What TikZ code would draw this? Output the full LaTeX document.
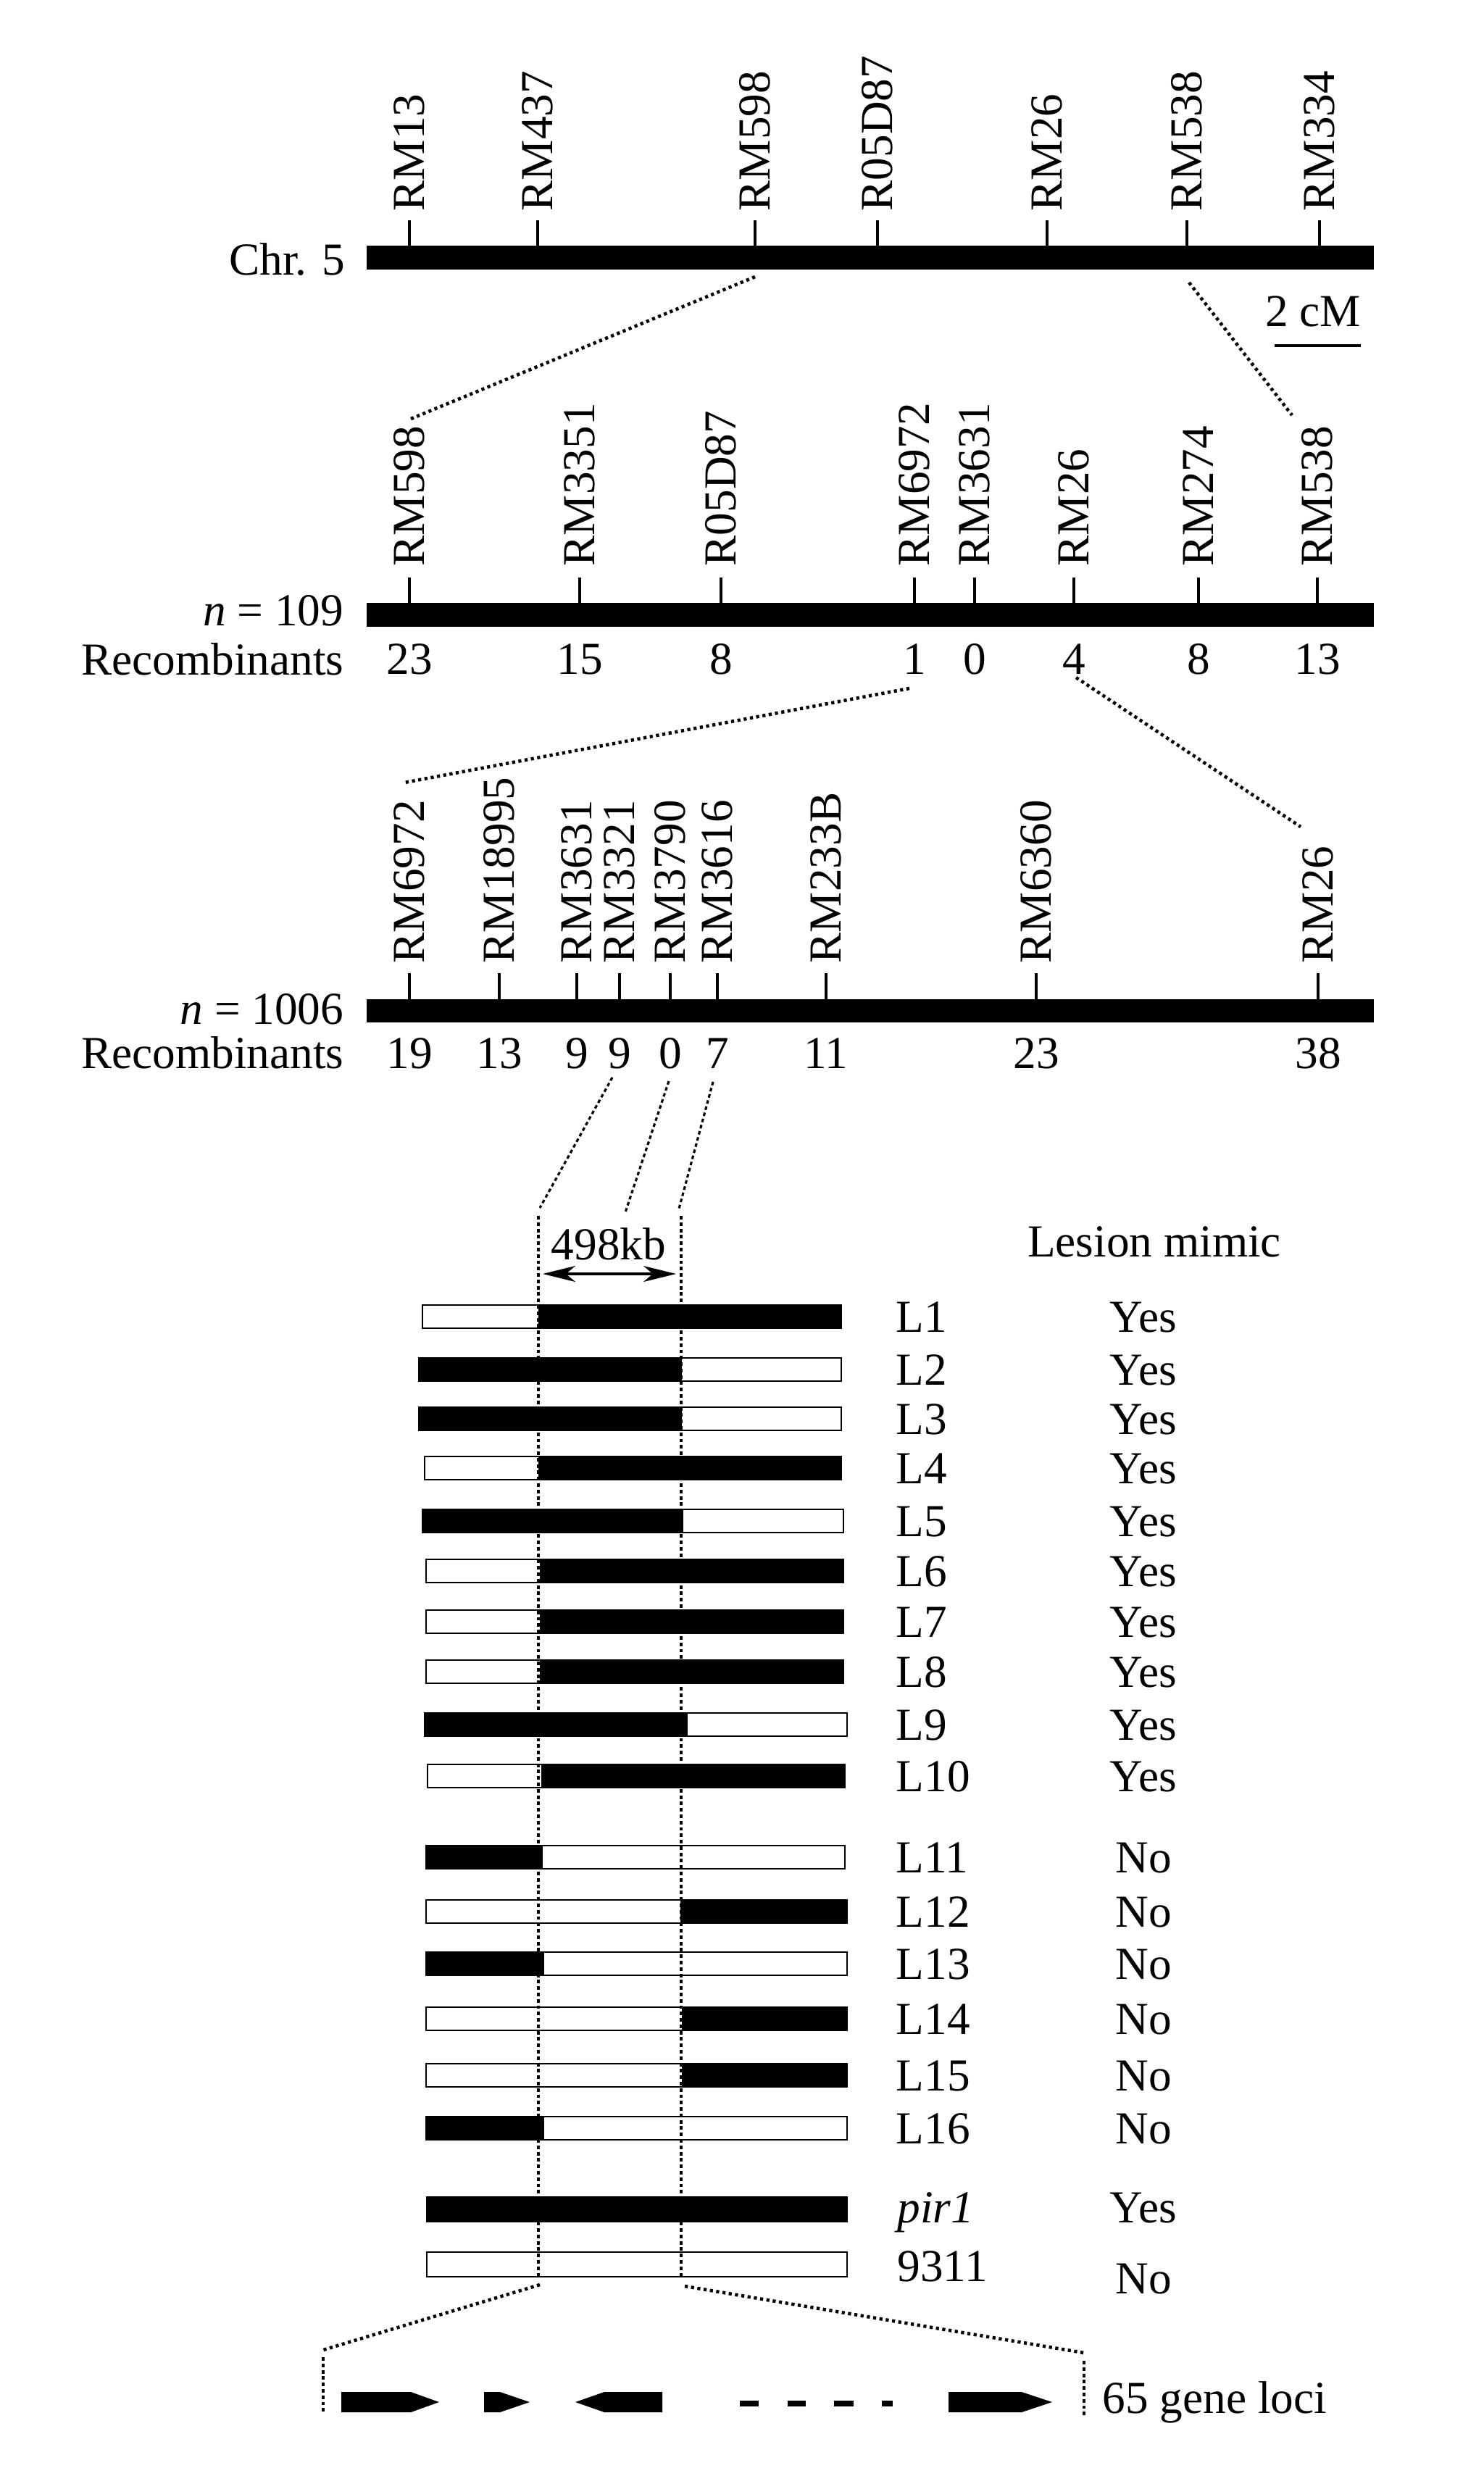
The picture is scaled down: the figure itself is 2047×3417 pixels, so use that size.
\documentclass[tikz,border=0pt]{standalone}
\usepackage{fontspec}
\setmainfont{Liberation Serif}
\usetikzlibrary{arrows.meta}
\begin{document}
\begin{tikzpicture}[x=0.1mm,y=-0.1mm,
  every node/.style={inner sep=0pt, font=\fontsize{18}{21}\selectfont},
  chrom/.style={fill=black},
  tickln/.style={line width=0.9pt},
  mk/.style={rotate=90, anchor=west},
  txt/.style={anchor=base},
  txtr/.style={anchor=base east},
  txtl/.style={anchor=base west},
  zoomdot/.style={line width=1.3pt, dash pattern=on 1.2pt off 1.3pt},
  dashln/.style={line width=0.9pt, dash pattern=on 1.4pt off 1.1pt},
  segbox/.style={draw=black, line width=0.8pt},
  gene/.style={fill=black},
  kbarrow/.style={{Stealth[length=4.5mm,width=2.2mm,inset=1.3mm]}-{Stealth[length=4.5mm,width=2.2mm,inset=1.3mm]}, line width=1pt},
]
\useasboundingbox (0,0) rectangle (2047,3417);

% ---------- Chr. 5 ----------
\fill[chrom] (506,339) rectangle (1896,372);
\node[txtr] (chr) at (477,379) {Chr. 5};
\foreach \x/\t [count=\i] in {565/RM13,742/RM437,1042/RM598,1211/R05D87,1445/RM26,1638/RM538,1821/RM334}{
  \node[mk] (a\i) at (\x,292) {\t};
  \draw[tickln] (\x,304) -- (\x,339);
}
\node[txt] (cm) at (1812,450) {2 cM};
\coordinate (cmL) at (1759,477);
\coordinate (cmR) at (1878,477);
\draw[line width=0.9pt] (cmL) -- (cmR);

% ---------- n = 109 ----------
\fill[chrom] (506,832) rectangle (1896,865);
\node[txtr] (n109) at (475,863) {\textit{n} = 109};
\node[txtr] (rec1) at (475,931) {Recombinants};
\foreach \x/\t/\r [count=\i] in {565/RM598/23,800/RM3351/15,995/R05D87/8,1262/RM6972/1,1345/RM3631/0,1482/RM26/4,1654/RM274/8,1818/RM538/13}{
  \node[mk] (b\i) at (\x,782) {\t};
  \draw[tickln] (\x,797) -- (\x,832);
  \node[txt] (br\i) at (\x,930) {\r};
}

% ---------- n = 1006 ----------
\fill[chrom] (506,1379) rectangle (1896,1411);
\node[txtr] (n1006) at (475,1413) {\textit{n} = 1006};
\node[txtr] (rec2) at (475,1474) {Recombinants};
\foreach \x/\t/\r [count=\i] in {565/RM6972/19,689/RM18995/13,796/RM3631/9,855/RM3321/9,925/RM3790/0,990/RM3616/7,1140/RM233B/11,1430/RM6360/23,1819/RM26/38}{
  \node[mk] (c\i) at (\x,1330) {\t};
  \draw[tickln] (\x,1343) -- (\x,1379);
  \node[txt] (cr\i) at (\x,1474) {\r};
}

% ---------- zoom connectors ----------
\coordinate (z1a) at (1042,382);  \coordinate (z1b) at (567,578);
\coordinate (z2a) at (1641,390);  \coordinate (z2b) at (1783,573);
\coordinate (z3a) at (1255,950);  \coordinate (z3b) at (558,1080);
\coordinate (z4a) at (1485,935);  \coordinate (z4b) at (1795,1141);
\draw[zoomdot] (z1a) -- (z1b);
\draw[zoomdot] (z2a) -- (z2b);
\draw[zoomdot] (z3a) -- (z3b);
\draw[zoomdot] (z4a) -- (z4b);

\coordinate (d1a) at (845,1487); \coordinate (d1b) at (745,1667);
\coordinate (d2a) at (923,1492); \coordinate (d2b) at (863,1673);
\coordinate (d3a) at (984,1493); \coordinate (d3b) at (937,1668);
\draw[dashln] (d1a) -- (d1b);
\draw[dashln] (d2a) -- (d2b);
\draw[dashln] (d3a) -- (d3b);

% ---------- 498 kb ----------
\node[txt] (kb) at (840,1738) {498kb};
\coordinate (kbL) at (749,1758);
\coordinate (kbR) at (933,1758);
\draw[kbarrow] (kbL) -- (kbR);
\node[txt] (lm) at (1593,1734) {Lesion mimic};

% ---------- recombinant lines ----------
\foreach \y/\l/\r/\s/\cl/\cr/\lab/\res [count=\i] in {
  1817/583/1161/744/white/black/L1/Yes,
  1890/578/1161/940/black/white/L2/Yes,
  1958/578/1161/940/black/white/L3/Yes,
  2026/586/1161/744/white/black/L4/Yes,
  2099/583/1164/942/black/white/L5/Yes,
  2168/588/1164/746/white/black/L6/Yes,
  2238/588/1164/746/white/black/L7/Yes,
  2307/588/1164/746/white/black/L8/Yes,
  2380/586/1169/948/black/white/L9/Yes,
  2451/590/1166/748/white/black/L10/Yes,
  2563/588/1166/748/black/white/L11/No,
  2638/588/1169/940/white/black/L12/No,
  2710/588/1169/750/black/white/L13/No,
  2786/588/1169/942/white/black/L14/No,
  2864/588/1169/942/white/black/L15/No,
  2937/588/1169/750/black/white/L16/No}{
  \filldraw[segbox, fill=\cl] (\l,\y-16) rectangle (\s,\y+16);
  \filldraw[segbox, fill=\cr] (\s,\y-16) rectangle (\r,\y+16);
  \node[txtl] (lab\i) at (1236,\y+21) {\lab};
  \node[txt] (res\i) at (1578,\y+21) {\res};
}
\filldraw[segbox, fill=black] (589,3032) rectangle (1169,3066);
\node[txtl] (labp) at (1238,3067) {\textit{pir1}};
\node[txt] (resp) at (1578,3067) {Yes};
\filldraw[segbox, fill=white] (589,3108) rectangle (1169,3142);
\node[txtl] (lab9) at (1238,3148) {9311};
\node[txt] (res9) at (1578,3165) {No};

% vertical boundaries
\coordinate (v1a) at (743,1678); \coordinate (v1b) at (743,3142);
\coordinate (v2a) at (940,1678); \coordinate (v2b) at (940,3142);
\draw[dashln] (v1a) -- (v1b);
\draw[dashln] (v2a) -- (v2b);

% ---------- gene region ----------
\coordinate (g1a) at (745,3153); \coordinate (g1b) at (446,3243);
\coordinate (g2a) at (945,3155); \coordinate (g2b) at (1496,3247);
\draw[zoomdot] (g1a) -- (g1b);
\draw[zoomdot] (g2a) -- (g2b);
\coordinate (g3a) at (446,3253); \coordinate (g3b) at (446,3328);
\coordinate (g4a) at (1496,3258); \coordinate (g4b) at (1496,3333);
\draw[dashln] (g3a) -- (g3b);
\draw[dashln] (g4a) -- (g4b);

\fill[gene] (471,3301) -- (567,3301) -- (606,3315) -- (567,3329) -- (471,3329) -- cycle;
\fill[gene] (668,3301) -- (690,3301) -- (731,3315) -- (690,3329) -- (668,3329) -- cycle;
\fill[gene] (914,3301) -- (834,3301) -- (794,3315) -- (834,3329) -- (914,3329) -- cycle;
\fill[gene] (1021,3313) rectangle (1047,3321);
\fill[gene] (1087,3313) rectangle (1112,3321);
\fill[gene] (1151,3313) rectangle (1178,3321);
\fill[gene] (1217,3313) rectangle (1232,3321);
\fill[gene] (1309,3301) -- (1410,3301) -- (1452,3315) -- (1410,3329) -- (1309,3329) -- cycle;
\node[txtl] (loci) at (1521,3330) {65 gene loci};
\end{tikzpicture}
\end{document}
